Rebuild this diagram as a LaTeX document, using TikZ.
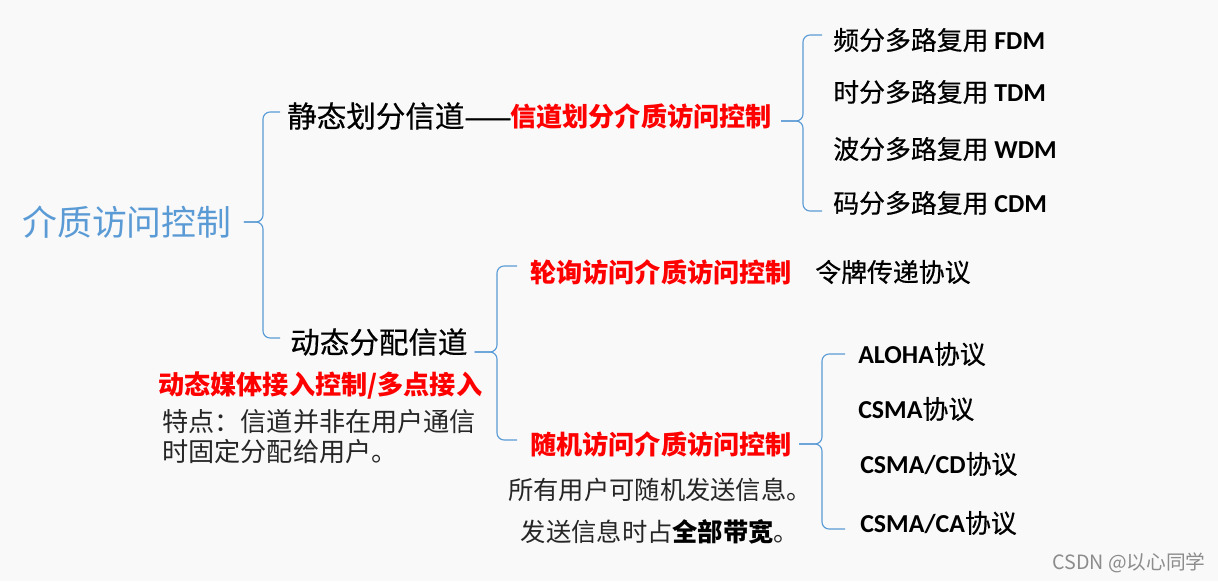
\documentclass[tikz,border=0pt]{standalone}
\usepackage{fontspec}
\setmainfont{Noto Sans CJK SC}
\newfontfamily\medf[FakeBold=0.5]{Noto Sans CJK SC}
\newfontfamily\latf{Carlito}
\usetikzlibrary{calc}
\definecolor{bgcol}{RGB}{249,249,250}
\definecolor{rootblue}{HTML}{5B9BD5}
\definecolor{bracecol}{HTML}{5B9BD5}
\definecolor{txtgray}{HTML}{262626}
\definecolor{markgray}{HTML}{8C8C8C}
\newcommand{\fsz}[1]{\fontsize{#1}{#1}\selectfont}
\newcommand{\lat}[1]{{\latf\bfseries #1}}

\begin{document}
\begin{tikzpicture}[x=0.025cm, y=-0.025cm]
        \tikzset{
          txt/.style   ={inner sep=0pt, anchor=west},
          lvroot/.style={txt, font=\fsz{24.8}, text=rootblue},
          lvone/.style ={txt, font=\fsz{21}\medf},
          mac/.style   ={txt, font=\fsz{18.6}\bfseries, text=red},
          leaf/.style  ={txt, font=\fsz{18.4}\medf},
          brc/.style   ={draw=bracecol, line width=0.8pt, rounded corners=5pt}
        }
        \fill[bgcol] (0,0) rectangle (1218,581);
        \useasboundingbox (0,0) rectangle (1218,581);
        %% --- Wurzel ---
        \node[lvroot] (root) at (22,222) {介质访问控制};
        \node[lvone]  (static)  at (287,116) {静态划分信道{\fsz{20}——}};
        \node[mac]    (statmac) at (510,116) {信道划分介质访问控制};
        \node[lvone]  (dynamic) at (290,342) {动态分配信道};
        \coordinate (sp1) at (263,0);
        \draw[brc] ($(static.west)+(-7,-4)$) -| (sp1 |- root) -- ($(root.east)+(12,0)$);
        \draw[brc] ($(dynamic.west)+(-10,-4)$) -| (sp1 |- root) -- ($(root.east)+(12,0)$);
        %% --- Statisch ---
        \node[leaf] (fdm) at (833,40)  {频分多路复用 \lat{FDM}};
        \node[leaf] (tdm) at (833,92)  {时分多路复用 \lat{TDM}};
        \node[leaf] (wdm) at (833,149) {波分多路复用 \lat{WDM}};
        \node[leaf] (cdm) at (833,203) {码分多路复用 \lat{CDM}};
        \coordinate (sp2)  at (803,0);
        \coordinate (tip2) at ($(statmac.east)+(9,5)$);
        \draw[brc] ($(fdm.west)+(-11,-5)$) -| (sp2 |- tip2) -- (tip2);
        \draw[brc] ($(cdm.west)+(-11,8)$) -| (sp2 |- tip2) -- (tip2);
        %% --- Dynamisch ---
        \node[mac]  (poll)  at (530,272) {轮询访问介质访问控制};
        \node[leaf] (token) at (815,272) {令牌传递协议};
        \node[mac]  (rand)  at (530,444) {随机访问介质访问控制};
        \coordinate (sp3)  at (497,0);
        \coordinate (tip3) at ($(dynamic.east)+(7,10)$);
        \draw[brc] ($(poll.west)+(-13,-6)$) -| (sp3 |- tip3) -- (tip3);
        \draw[brc] ($(rand.west)+(-13,-4)$) -| (sp3 |- tip3) -- (tip3);
        %% --- Zufallszugriff ---
        \node[leaf] (aloha)  at (858,354) {\lat{ALOHA}协议};
        \node[leaf] (csma)   at (858,409) {\lat{CSMA}协议};
        \node[leaf] (csmacd) at (860,464) {\lat{CSMA/CD}协议};
        \node[leaf] (csmaca) at (860,523) {\lat{CSMA/CA}协议};
        \coordinate (sp4)  at (822,0);
        \coordinate (tip4) at ($(rand.east)+(7,0)$);
        \draw[brc] ($(aloha.west)+(-13,0)$) -| (sp4 |- tip4) -- (tip4);
        \draw[brc] ($(csmaca.west)+(-15,6)$) -| (sp4 |- tip4) -- (tip4);
        %% --- Erlaeuterungen ---
        \node[mac] (dmac) at (158,386) {动态媒体接入控制/多点接入};
        \node[txt, font=\fontsize{18.6}{21.3}\selectfont, align=left, text=txtgray] (feat) at (162,437)
          {特点：信道并非在用户通信\\时固定分配给用户。};
        \node[font=\fontsize{18}{29.8}\selectfont, align=center, inner sep=0pt, text=txtgray] (randnote) at (660,511)
          {所有用户可随机发送信息。\\发送信息时占{\color{black}\bfseries 全部带宽}。};
        \node[txt, font=\fsz{14}, text=markgray] (mark) at (1052,563) {CSDN @以心同学};
\end{tikzpicture}
\end{document}
